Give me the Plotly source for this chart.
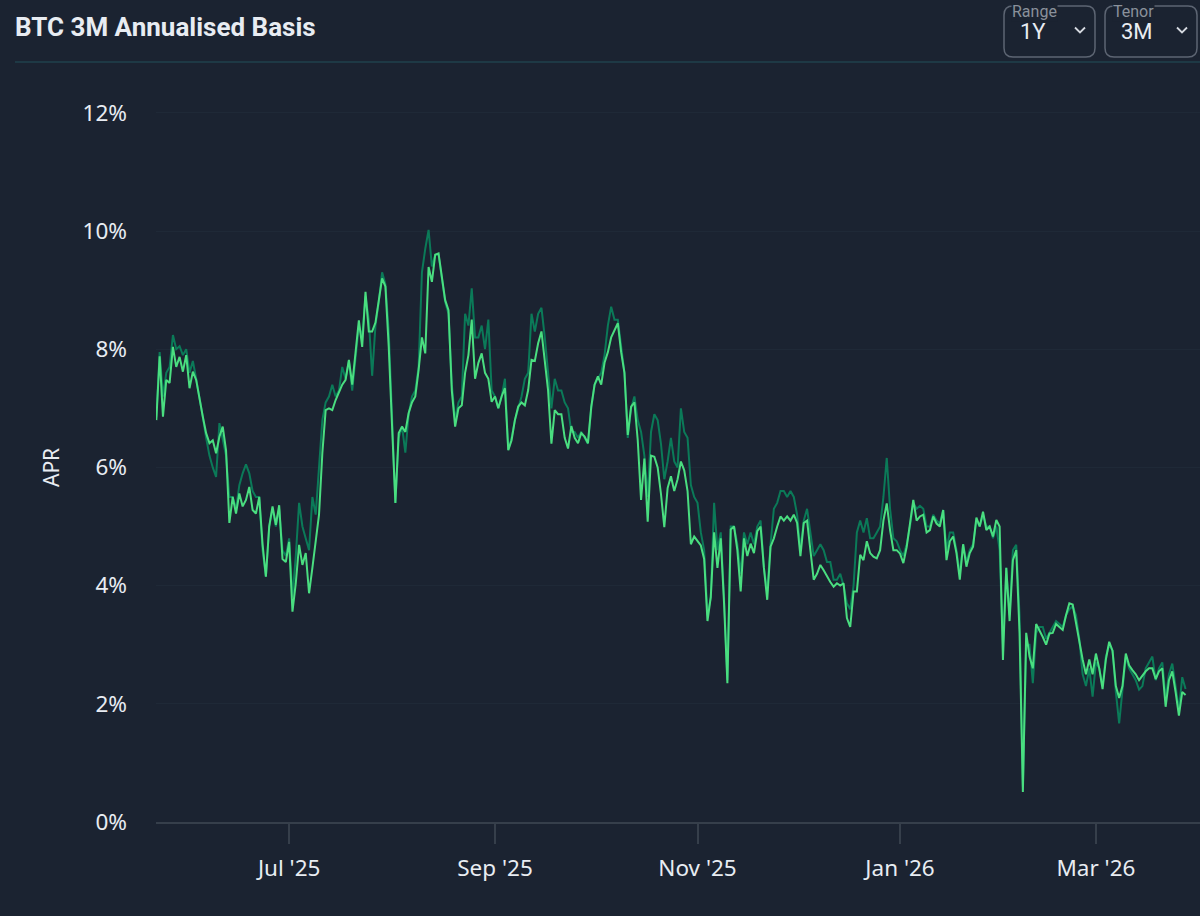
import pandas as pd
import plotly.graph_objects as go

# ---------------- data ----------------
start_date = "2025-05-22"

basis_main = [
    6.80, 7.88, 6.86, 7.48, 7.43, 8.04, 7.70, 7.87, 7.62, 7.90,
    7.34, 7.62, 7.48, 7.14, 6.86, 6.58, 6.41, 6.46, 6.24, 6.52,
    6.69, 6.29, 5.06, 5.50, 5.22, 5.56, 5.34, 5.45, 5.67, 5.28,
    5.22, 5.50, 4.70, 4.15, 5.00, 5.34, 5.03, 5.36, 4.45, 4.40,
    4.74, 3.56, 4.04, 4.69, 4.35, 4.55, 3.87, 4.30, 4.77, 5.20,
    6.24, 6.97, 7.00, 6.97, 7.14, 7.26, 7.40, 7.48, 7.82, 7.40,
    7.99, 8.49, 8.04, 8.97, 8.30, 8.30, 8.45, 8.85, 9.20, 9.06,
    8.04, 6.70, 5.40, 6.58, 6.69, 6.60, 6.92, 7.10, 7.20, 7.65,
    8.20, 7.93, 9.39, 9.14, 9.60, 9.62, 9.20, 8.83, 8.66, 7.30,
    6.69, 7.00, 7.05, 7.60, 7.90, 8.50, 7.50, 7.77, 7.93, 7.60,
    7.50, 7.11, 7.20, 7.00, 7.20, 7.34, 6.29, 6.46, 6.80, 7.03,
    7.10, 7.05, 7.31, 7.82, 7.80, 8.10, 8.30, 7.80, 7.30, 6.40,
    6.97, 6.90, 6.90, 6.50, 6.32, 6.70, 6.50, 6.41, 6.58, 6.52,
    6.41, 7.03, 7.40, 7.54, 7.40, 7.77, 7.95, 8.20, 8.32, 8.44,
    7.95, 7.60, 6.55, 7.03, 7.10, 6.46, 5.45, 6.15, 5.08, 6.20,
    6.18, 6.00, 5.55, 4.99, 5.65, 5.85, 5.60, 5.80, 6.10, 5.95,
    5.60, 4.70, 4.83, 4.75, 4.68, 4.45, 3.40, 3.81, 4.90, 4.30,
    4.80, 3.70, 2.35, 4.95, 5.00, 4.60, 3.90, 4.80, 4.50, 4.71,
    4.55, 4.92, 5.00, 4.30, 3.76, 4.66, 4.80, 5.00, 5.17, 5.10,
    5.17, 5.10, 5.20, 5.06, 4.50, 5.06, 5.10, 4.60, 4.10, 4.20,
    4.35, 4.26, 4.15, 4.06, 3.98, 4.04, 4.00, 4.04, 3.45, 3.30,
    3.90, 3.90, 4.52, 4.43, 4.75, 4.55, 4.49, 4.46, 4.60, 5.10,
    5.39, 4.94, 4.60, 4.60, 4.54, 4.38, 4.65, 5.06, 5.45, 5.10,
    5.17, 5.20, 4.90, 4.94, 5.17, 5.05, 5.00, 5.28, 4.43, 4.75,
    4.83, 4.55, 4.10, 4.70, 4.32, 4.55, 4.66, 5.15, 5.00, 5.25,
    4.94, 5.00, 4.83, 5.11, 5.00, 2.74, 4.30, 3.40, 4.43, 4.60,
    3.20, 0.51, 3.20, 2.80, 2.60, 3.35, 3.25, 3.13, 3.00, 3.19,
    3.20, 3.35, 3.30, 3.25, 3.50, 3.70, 3.68, 3.35, 3.02, 2.75,
    2.50, 2.75, 2.50, 2.85, 2.60, 2.25, 2.75, 3.05, 2.90, 2.30,
    2.10, 2.30, 2.85, 2.65, 2.57, 2.50, 2.40, 2.48, 2.55, 2.60,
    2.60, 2.42, 2.55, 2.60, 1.95, 2.40, 2.55, 2.20, 1.80, 2.20,
    2.15,
]

basis_alt = [
    6.85, 7.95, 7.20, 7.60, 7.70, 8.24, 8.00, 8.05, 7.90, 8.00,
    7.60, 7.80, 7.50, 7.20, 6.85, 6.50, 6.20, 6.00, 5.84, 6.75,
    6.50, 6.20, 5.50, 5.50, 5.30, 5.70, 5.90, 6.05, 5.90, 5.60,
    5.50, 5.50, 4.60, 4.15, 5.00, 5.30, 5.00, 5.30, 4.60, 4.50,
    4.80, 3.80, 4.50, 5.40, 5.00, 4.80, 4.60, 5.50, 5.20, 6.00,
    6.80, 7.10, 7.20, 7.40, 7.20, 7.30, 7.70, 7.50, 7.80, 7.30,
    7.90, 8.40, 8.20, 8.90, 8.50, 7.55, 8.40, 8.80, 9.30, 9.10,
    8.30, 6.90, 5.40, 6.50, 6.70, 6.25, 6.90, 7.20, 7.30, 7.70,
    9.30, 9.70, 10.02, 9.40, 9.60, 9.60, 9.20, 8.80, 8.60, 7.40,
    6.80, 7.10, 7.20, 8.60, 8.40, 9.03, 8.20, 8.20, 8.40, 8.00,
    8.50, 7.30, 7.20, 7.00, 7.20, 7.50, 6.30, 6.50, 6.80, 7.00,
    7.20, 7.50, 7.60, 8.60, 8.30, 8.60, 8.70, 8.20, 7.60, 7.00,
    7.50, 7.30, 7.30, 7.10, 7.00, 6.60, 6.60, 6.50, 6.60, 6.50,
    6.40, 7.00, 7.40, 7.50, 7.60, 7.90, 8.40, 8.72, 8.50, 8.50,
    8.00, 7.60, 6.50, 7.00, 7.20, 6.80, 6.60, 6.20, 5.50, 6.60,
    6.90, 6.80, 6.40, 5.80, 6.10, 6.50, 6.10, 6.00, 7.00, 6.60,
    6.50, 5.70, 5.50, 5.40, 4.90, 4.60, 3.50, 3.80, 5.40, 4.60,
    4.90, 3.80, 2.40, 5.00, 5.00, 4.70, 4.20, 4.90, 4.70, 4.90,
    4.70, 5.00, 5.10, 4.30, 3.90, 4.70, 5.30, 5.40, 5.60, 5.60,
    5.50, 5.60, 5.50, 5.20, 4.60, 5.10, 5.30, 4.90, 4.50, 4.60,
    4.70, 4.60, 4.40, 4.40, 4.10, 4.10, 4.20, 4.00, 3.70, 3.60,
    4.00, 4.90, 5.10, 4.90, 5.14, 4.80, 4.80, 4.90, 5.00, 5.50,
    6.16, 5.30, 4.80, 4.75, 4.60, 4.50, 4.70, 5.00, 5.40, 5.30,
    5.35, 5.30, 5.00, 5.00, 5.20, 5.10, 5.05, 5.28, 4.60, 4.90,
    4.90, 4.60, 4.20, 4.70, 4.40, 4.60, 4.70, 5.10, 5.00, 5.20,
    5.00, 5.00, 4.80, 5.00, 4.60, 3.00, 4.30, 3.50, 4.60, 4.69,
    3.50, 0.60, 3.00, 3.00, 2.35, 3.20, 3.30, 3.30, 3.10, 3.20,
    3.30, 3.40, 3.35, 3.30, 3.50, 3.60, 3.65, 3.50, 3.10, 2.50,
    2.30, 2.60, 2.12, 2.70, 2.60, 2.30, 2.80, 3.00, 2.90, 2.20,
    1.67, 2.20, 2.80, 2.60, 2.50, 2.40, 2.24, 2.30, 2.60, 2.70,
    2.80, 2.40, 2.60, 2.70, 2.10, 2.50, 2.68, 2.30, 1.90, 2.45,
    2.25,
]

y_ticks = [0, 2, 4, 6, 8, 10, 12]
y_tick_labels = ["0%", "2%", "4%", "6%", "8%", "10%", "12%"]
range_label, range_value = "Range", "1Y"
tenor_label, tenor_value = "Tenor", "3M"

dates = pd.date_range(start_date, periods=len(basis_main), freq="D")

# ---------------- styling ----------------
BG = "#1b2331"
BRIGHT = "#4ade80"
DARK = "#0b7a58"
TXT = "#e8ecf2"

# plot area in pixels
L, R, T, B = 156, 1200, 101, 822
W, H = R - L, B - T


def px(x):
    return (x - L) / W


def py(y):
    return (B - y) / H


def rrect(x0, y0, x1, y1, r):
    rx, ry = r / W, r / H
    X0, X1 = px(x0), px(x1)
    Y0, Y1 = py(y0), py(y1)
    return (f"M {X0+rx},{Y0} L {X1-rx},{Y0} Q {X1},{Y0} {X1},{Y0-ry} "
            f"L {X1},{Y1+ry} Q {X1},{Y1} {X1-rx},{Y1} L {X0+rx},{Y1} "
            f"Q {X0},{Y1} {X0},{Y1+ry} L {X0},{Y0-ry} Q {X0},{Y0} {X0+rx},{Y0} Z")


fig = go.Figure()
fig.add_trace(go.Scatter(x=dates, y=basis_alt, mode="lines",
                         line=dict(color=DARK, width=2), name="alt",
                         showlegend=False))
fig.add_trace(go.Scatter(x=dates, y=basis_main, mode="lines",
                         line=dict(color=BRIGHT, width=2), name="main",
                         showlegend=False))

shapes = []
shapes.append(dict(type="line", xref="paper", yref="paper",
                   x0=px(15), x1=px(1200), y0=py(62), y1=py(62),
                   line=dict(color="#1e3945", width=2)))
for (bx0, bx1) in [(1004, 1095), (1105, 1197)]:
    shapes.append(dict(type="path", xref="paper", yref="paper",
                       path=rrect(bx0, 6, bx1, 57, 9),
                       line=dict(color="#5d6573", width=1.5)))
    cx = bx1 - 15
    shapes.append(dict(type="path", xref="paper", yref="paper",
                       path=f"M {px(cx-5)},{py(27.5)} L {px(cx)},{py(32.5)} L {px(cx+5)},{py(27.5)}",
                       line=dict(color="#d5d9e0", width=1.8)))

annotations = [
    dict(text="APR", xref="paper", yref="paper", x=px(51), y=py(468),
         textangle=-90, showarrow=False, xanchor="center", yanchor="middle",
         font=dict(family="Noto Sans", size=21, color=TXT)),
]
for (lx, lab, vx, val) in [(1011, range_label, 1018, range_value),
                           (1112, tenor_label, 1119, tenor_value)]:
    annotations.append(dict(text=lab, xref="paper", yref="paper", x=px(lx),
                            y=py(11), xanchor="left", yanchor="middle",
                            showarrow=False, bgcolor=BG, borderpad=0,
                            font=dict(family="Roboto", size=16, color="#8a919b")))
    annotations.append(dict(text=val, xref="paper", yref="paper", x=px(vx),
                            y=py(31), xanchor="left", yanchor="middle",
                            showarrow=False,
                            font=dict(family="Roboto", size=22, color=TXT)))

fig.update_layout(
    width=1200, height=916,
    paper_bgcolor=BG, plot_bgcolor=BG,
    margin=dict(l=L, r=1200 - R, t=T, b=916 - B),
    title=dict(text="<b>BTC 3M Annualised Basis</b>", xref="container",
               yref="container", x=15 / 1200, y=1 - 27 / 916,
               xanchor="left", yanchor="middle",
               font=dict(family="Roboto", size=26, color=TXT)),
    shapes=shapes,
    annotations=annotations,
    showlegend=False,
    xaxis=dict(
        type="date",
        range=["2025-05-21 21:36", "2026-04-01 08:24"],
        tick0="2025-07-01", dtick="M2", tickformat="%b '%y",
        showgrid=False, zeroline=False,
        showline=True, linecolor="#363f4b", linewidth=2,
        ticks="outside", ticklen=20, tickwidth=2, tickcolor="#363f4b",
        tickfont=dict(family="Noto Sans", size=22.5, color=TXT),
        ticklabelstandoff=5,
    ),
    yaxis=dict(
        range=[0, 12.2],
        tickmode="array", tickvals=y_ticks, ticktext=y_tick_labels,
        showgrid=True, gridcolor="#1f2937", gridwidth=1,
        zeroline=False, showline=False,
        tickfont=dict(family="Noto Sans", size=22.5, color=TXT),
        ticklabelstandoff=28,
    ),
)

fig.write_html("out.html", config={"displayModeBar": False},
               post_script="document.body.style.margin='0px';document.body.style.background='" + BG + "';")
